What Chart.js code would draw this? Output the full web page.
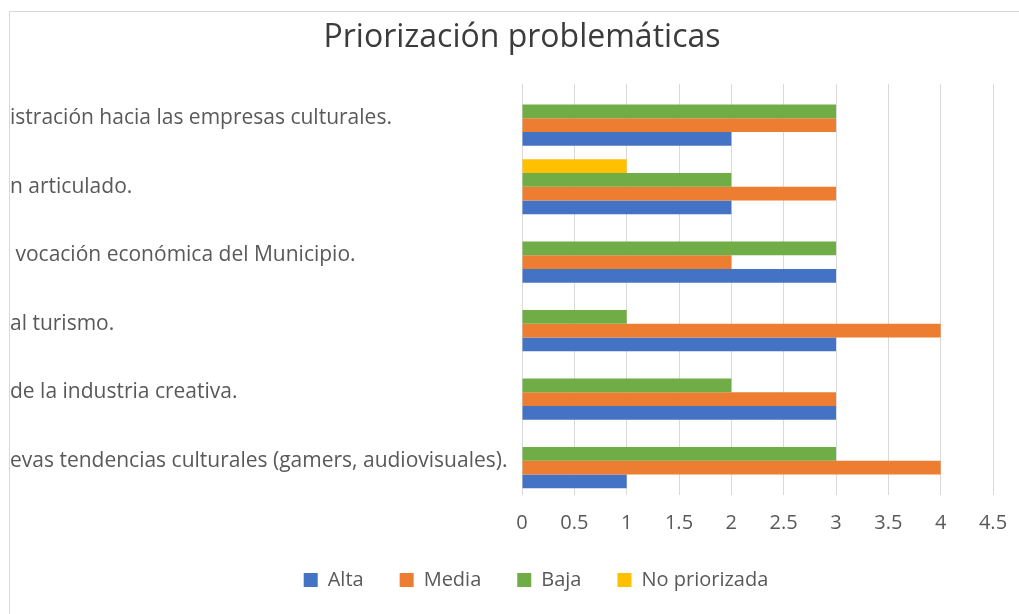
<!DOCTYPE html>
<html lang="es">
<head>
<meta charset="utf-8">
<title>Priorización problemáticas</title>
<script src="https://cdn.jsdelivr.net/npm/chart.js@4.4.1/dist/chart.umd.min.js"></script>
<style>
  html, body { margin: 0; padding: 0; background: #fff; overflow: hidden; }
  #wrap { position: relative; width: 1019px; height: 614px; }
</style>
</head>
<body>
<div id="wrap"><canvas id="chart"></canvas></div>
<script>
(() => {
  "use strict";

  // Category labels (top to bottom) — the left part is cut off in the source picture
  const CATEGORIES = [
    "istración hacia las empresas culturales.",
    "n articulado.",
    " vocación económica del Municipio.",
    "al turismo.",
    "de la industria creativa.",
    "evas tendencias culturales (gamers, audiovisuales).",
  ];
  const ALTA = [2, 2, 3, 3, 3, 1];
  const MEDIA = [3, 3, 2, 4, 3, 4];
  const BAJA = [3, 2, 3, 1, 2, 3];
  const NO_PRIORIZADA = [0, 1, 0, 0, 0, 0];
  const X_MIN = 0;
  const X_MAX = 4.5;
  const X_STEP = 0.5;
  const X_TICK_LABELS = ["0", "0.5", "1", "1.5", "2", "2.5", "3", "3.5", "4", "4.5"];

  const COLORS = {
    alta: "#4472C4",
    media: "#ED7D31",
    baja: "#70AD47",
    noPrio: "#FFC000",
    text: "#595959",
    title: "#3b3b3b",
    grid: "#d9d9d9",
  };
  const FONT = "'Open Sans', 'Noto Sans', sans-serif";

  const PLOT_LEFT = 522;   // where the value axis starts
  const TITLE_CX = 522;    // Excel centres title/legend on the full (cropped) chart frame
  const LEGEND_CX = 536;

  // Light frame of the chart object (top + left edge are visible)
  const frame = {
    id: "frame",
    beforeDraw(chart) {
      const { ctx, width, height } = chart;
      ctx.save();
      ctx.fillStyle = "#fff";
      ctx.fillRect(0, 0, width, height);
      ctx.strokeStyle = "#d9d9d9";
      ctx.lineWidth = 1;
      ctx.beginPath();
      ctx.moveTo(9.5, height);
      ctx.lineTo(9.5, 11.5);
      ctx.lineTo(width, 11.5);
      ctx.stroke();
      ctx.restore();
    },
  };

  const recentre = {
    id: "recentre",
    afterLayout(chart) {
      const move = (box, cx) => {
        if (!box) return;
        const half = (box.right - box.left) / 2;
        box.left = cx - half;
        box.right = cx + half;
      };
      move(chart.titleBlock, TITLE_CX);
      move(chart.legend, LEGEND_CX);
    },
  };

  // Excel draws the first series at the bottom of each group, so datasets go in reverse
  const series = [
    { label: "No priorizada", data: NO_PRIORIZADA, color: COLORS.noPrio },
    { label: "Baja", data: BAJA, color: COLORS.baja },
    { label: "Media", data: MEDIA, color: COLORS.media },
    { label: "Alta", data: ALTA, color: COLORS.alta },
  ];

  new Chart(document.getElementById("chart"), {
    type: "bar",
    data: {
      labels: CATEGORIES,
      datasets: series.map((s) => ({
        label: s.label,
        data: s.data,
        backgroundColor: s.color,
        borderWidth: 0,
        categoryPercentage: 0.8,
        barPercentage: 1.0,
      })),
    },
    options: {
      indexAxis: "y",
      responsive: true,
      maintainAspectRatio: false,
      animation: false,
      locale: "en-US",
      layout: { padding: { left: 10, right: 26, top: 12, bottom: 14 } },
      plugins: {
        title: {
          display: true,
          text: "Priorización problemáticas",
          color: COLORS.title,
          font: { family: FONT, size: 32, weight: "normal" },
          padding: { top: 7, bottom: 26.6 },
        },
        legend: {
          position: "bottom",
          reverse: true,
          labels: {
            color: COLORS.text,
            font: { family: FONT, size: 20 },
            boxWidth: 14,
            boxHeight: 14,
            padding: 36,
          },
        },
        tooltip: { enabled: false },
      },
      scales: {
        x: {
          min: X_MIN,
          max: X_MAX,
          grid: { color: COLORS.grid, drawTicks: false },
          border: { display: false },
          ticks: {
            stepSize: X_STEP,
            padding: 16,
            color: COLORS.text,
            font: { family: FONT, size: 20 },
            callback: (v, i) => X_TICK_LABELS[i],
          },
          afterFit(scale) {
            scale.height = 39;
            scale.paddingRight = 0; // last label may hang into the right margin
          },
        },
        y: {
          grid: { display: false },
          border: { display: false },
          ticks: {
            crossAlign: "far",
            padding: 0,
            color: COLORS.text,
            font: { family: FONT, size: 21 },
          },
          afterFit(scale) { scale.width = PLOT_LEFT - 10; },
        },
      },
    },
    plugins: [frame, recentre],
  });
})();
</script>
</body>
</html>
